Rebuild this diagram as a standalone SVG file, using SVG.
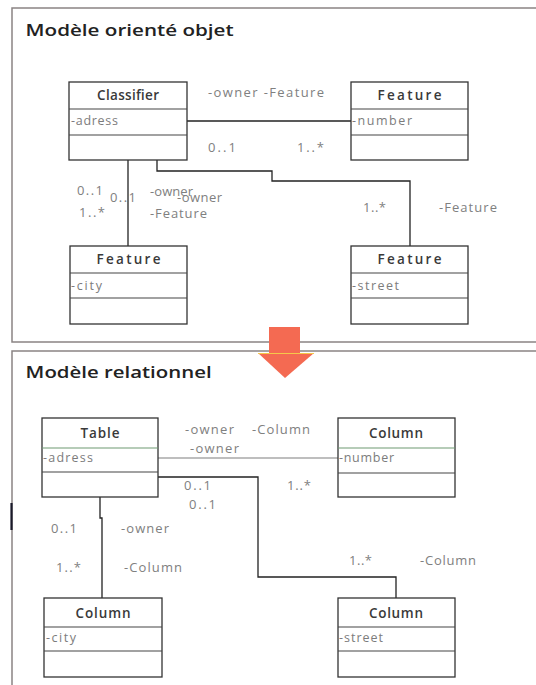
<svg xmlns="http://www.w3.org/2000/svg" width="536" height="685" viewBox="0 0 536 685">
<style>
.bg{fill:#fff}
.frame{fill:none;stroke:#8a8484;stroke-width:1.5}
.box{fill:#fff;stroke:#333;stroke-width:1.3}
.div{stroke:#444;stroke-width:1.2}
.divg{stroke:#6f9a72;stroke-width:1.2}
.conn{fill:none;stroke:#222;stroke-width:1.3}
.connl{fill:none;stroke:#a8a8a8;stroke-width:1.3}
.title{font-family:"Open Sans","Noto Sans",sans-serif;font-weight:600;font-size:16.5px;fill:#222}
.name{font-family:"Open Sans","Noto Sans",sans-serif;font-weight:600;font-size:13.5px;fill:#3a3a3a;text-anchor:middle}
.attr{font-family:"Open Sans","Noto Sans",sans-serif;font-size:12.5px;fill:#7c7c7c}
.lbl{font-family:"Open Sans","Noto Sans",sans-serif;font-size:13px;fill:#808080}
.arrow{fill:#f46a52}
</style>
<rect class="bg" x="0" y="0" width="536" height="685"/>
<g id="frames">
<path class="frame" d="M540,8 H12 V342 H540"/>
<path class="frame" d="M540,351 H12 V690"/>
<line x1="11.5" y1="503" x2="11.5" y2="530" stroke="#1a1a2a" stroke-width="2.2"/>
<text class="title" x="25.6" y="36" textLength="208" lengthAdjust="spacingAndGlyphs">Modèle orienté objet</text>
<text class="title" x="25.6" y="378" textLength="186" lengthAdjust="spacingAndGlyphs">Modèle relationnel</text>
</g>
<g id="transform-arrow">
<rect class="arrow" x="269" y="327" width="31" height="27"/>
<polygon class="arrow" points="258,353 314,353 285,378"/>
<line x1="258" y1="353.5" x2="314" y2="353.5" stroke="#f5c84a" stroke-width="1.2"/>
</g>
<g id="connectors">
<line class="conn" x1="187" y1="121" x2="351" y2="121"/>
<line class="conn" x1="128" y1="160" x2="128" y2="246"/>
<path class="conn" d="M157,160 V171 H272 V181 H410 V246"/>
<line class="connl" x1="158" y1="458" x2="338" y2="458"/>
<path class="conn" d="M158,477 H258 V577 H396 V598"/>
<path class="conn" d="M100,497 V518 H102 V598"/>
</g>
<g id="labels">
<text class="lbl" x="208" y="97" textLength="116" lengthAdjust="spacing">-owner -Feature</text>
<text class="lbl" x="208" y="152" textLength="28" lengthAdjust="spacing">0..1</text>
<text class="lbl" x="297" y="152" textLength="27" lengthAdjust="spacing">1..*</text>
<text class="lbl" x="77" y="195" textLength="26" lengthAdjust="spacing">0..1</text>
<text class="lbl" x="110" y="202" textLength="26" lengthAdjust="spacing" fill="#9a9a9a">0..1</text>
<text class="lbl" x="150" y="196" textLength="43" lengthAdjust="spacing">-owner</text>
<text class="lbl" x="177" y="202" textLength="45" lengthAdjust="spacing">-owner</text>
<text class="lbl" x="79" y="217" textLength="26" lengthAdjust="spacing">1..*</text>
<text class="lbl" x="150" y="218" textLength="57" lengthAdjust="spacing">-Feature</text>
<text class="lbl" x="363" y="212" textLength="23" lengthAdjust="spacing">1..*</text>
<text class="lbl" x="439" y="212" textLength="58" lengthAdjust="spacing">-Feature</text>
<text class="lbl" x="185" y="434" textLength="49" lengthAdjust="spacing">-owner</text>
<text class="lbl" x="252" y="434" textLength="58" lengthAdjust="spacing">-Column</text>
<text class="lbl" x="190" y="453" textLength="49" lengthAdjust="spacing">-owner</text>
<text class="lbl" x="184" y="490" textLength="27" lengthAdjust="spacing">0..1</text>
<text class="lbl" x="189" y="509" textLength="27" lengthAdjust="spacing">0..1</text>
<text class="lbl" x="287" y="490" textLength="24" lengthAdjust="spacing">1..*</text>
<text class="lbl" x="51" y="533" textLength="26" lengthAdjust="spacing">0..1</text>
<text class="lbl" x="121" y="533" textLength="48" lengthAdjust="spacing">-owner</text>
<text class="lbl" x="56" y="572" textLength="25" lengthAdjust="spacing">1..*</text>
<text class="lbl" x="124" y="572" textLength="58" lengthAdjust="spacing">-Column</text>
<text class="lbl" x="349" y="565" textLength="23" lengthAdjust="spacing">1..*</text>
<text class="lbl" x="420" y="565" textLength="56" lengthAdjust="spacing">-Column</text>
</g>
<g id="classifier">
<rect class="box" x="69" y="82" width="118" height="78"/>
<line class="div" x1="69" y1="109" x2="187" y2="109"/>
<line class="div" x1="69" y1="135" x2="187" y2="135"/>
<text class="name" x="128" y="100" textLength="62" lengthAdjust="spacing">Classifier</text>
<text class="attr" x="71" y="125" textLength="47" lengthAdjust="spacing">-adress</text>
</g>
<g id="feature-number">
<rect class="box" x="351" y="82" width="117" height="78"/>
<line class="div" x1="351" y1="109" x2="468" y2="109"/>
<line class="div" x1="351" y1="135" x2="468" y2="135"/>
<text class="name" x="409.5" y="100" textLength="64" lengthAdjust="spacing">Feature</text>
<text class="attr" x="352" y="125" textLength="60" lengthAdjust="spacing">-number</text>
</g>
<g id="feature-city">
<rect class="box" x="70" y="246" width="117" height="78"/>
<line class="div" x1="70" y1="273" x2="187" y2="273"/>
<line class="div" x1="70" y1="298" x2="187" y2="298"/>
<text class="name" x="128.5" y="264" textLength="64" lengthAdjust="spacing">Feature</text>
<text class="attr" x="71" y="290" textLength="31" lengthAdjust="spacing">-city</text>
</g>
<g id="feature-street">
<rect class="box" x="351" y="246" width="117" height="78"/>
<line class="div" x1="351" y1="273" x2="468" y2="273"/>
<line class="div" x1="351" y1="298" x2="468" y2="298"/>
<text class="name" x="409.5" y="264" textLength="64" lengthAdjust="spacing">Feature</text>
<text class="attr" x="352" y="290" textLength="47" lengthAdjust="spacing">-street</text>
</g>
<g id="table">
<rect class="box" x="42" y="418" width="116" height="79"/>
<line class="divg" x1="42" y1="448" x2="158" y2="448"/>
<line class="div" x1="42" y1="472" x2="158" y2="472"/>
<text class="name" x="100" y="438" textLength="39" lengthAdjust="spacing">Table</text>
<text class="attr" x="43" y="462" textLength="50" lengthAdjust="spacing">-adress</text>
</g>
<g id="column-number">
<rect class="box" x="338" y="418" width="117" height="79"/>
<line class="divg" x1="338" y1="448" x2="455" y2="448"/>
<line class="div" x1="338" y1="473" x2="455" y2="473"/>
<text class="name" x="396" y="438" textLength="54" lengthAdjust="spacing">Column</text>
<text class="attr" x="339" y="462" textLength="55" lengthAdjust="spacing">-number</text>
</g>
<g id="column-city">
<rect class="box" x="44" y="598" width="118" height="79"/>
<line class="div" x1="44" y1="627" x2="162" y2="627"/>
<line class="div" x1="44" y1="651" x2="162" y2="651"/>
<text class="name" x="103" y="618" textLength="55" lengthAdjust="spacing">Column</text>
<text class="attr" x="46" y="642" textLength="30" lengthAdjust="spacing">-city</text>
</g>
<g id="column-street">
<rect class="box" x="338" y="598" width="117" height="79"/>
<line class="div" x1="338" y1="627" x2="455" y2="627"/>
<line class="div" x1="338" y1="651" x2="455" y2="651"/>
<text class="name" x="396" y="618" textLength="54" lengthAdjust="spacing">Column</text>
<text class="attr" x="339" y="642" textLength="44" lengthAdjust="spacing">-street</text>
</g>
</svg>
